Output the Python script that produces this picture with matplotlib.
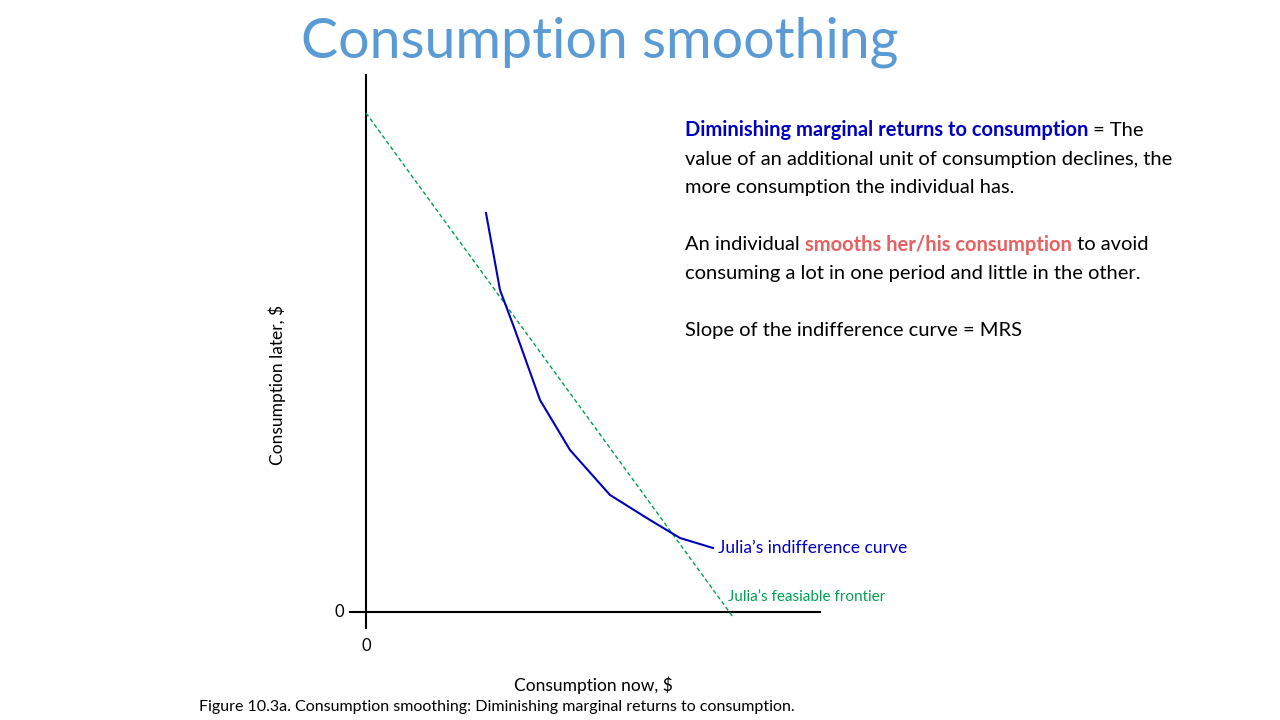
import matplotlib
matplotlib.use("Agg")
import matplotlib.pyplot as plt

FONT = "Lato"
curve_x = [120, 134, 149, 174, 204, 244, 284, 314, 347]
curve_y = [399, 322, 282, 212, 162, 117, 92, 74, 64]
front_x = [0, 367]
front_y = [499, -5]
ticks = [0]

fig = plt.figure(figsize=(12.8, 7.2), dpi=100)
ax = fig.add_axes([366/1280, 108/720, 454/1280, 537/720])
ax.set_xlim(0, 454); ax.set_ylim(0, 537)
for s in ["top", "right", "left", "bottom"]:
    ax.spines[s].set_visible(False)
ax.plot([-16, 454], [0, 0], color="black", lw=1.5, clip_on=False)
ax.plot([0, 0], [-16, 537], color="black", lw=1.5, clip_on=False)
ax.set_xticks([]); ax.set_yticks([])
ax.text(0, -26, "0", ha="center", va="top", fontsize=12, family=FONT)
ax.text(-22, 0, "0", ha="right", va="center", fontsize=12, family=FONT)
ax.plot(front_x, front_y, color="#00A050", ls=(0, (3, 2)), lw=1, clip_on=False)
ax.plot(curve_x, curve_y, color="#0000C0", lw=1.5)
ax.text(352, 64, "Julia’s indifference curve", color="#0000C0", fontsize=12.5, va="center", family=FONT)
ax.text(362, 15, "Julia’s feasiable frontier", color="#00A050", fontsize=11, va="center", family=FONT)
fig.text(277/1280, 1-385/720, "Consumption later, $", rotation=90, ha="center", va="center", fontsize=12.5, family=FONT)
fig.text(593/1280, 1-685/720, "Consumption now, $", ha="center", va="center", fontsize=12.5, family=FONT)
fig.text(497/1280, 1-707/720, "Figure 10.3a. Consumption smoothing: Diminishing marginal returns to consumption.", ha="center", va="center", fontsize=11.5, family=FONT)
fig.text(600/1280, 1-42/720, "Consumption smoothing", ha="center", va="center", fontsize=40, color="#5B9BD5", family=FONT)

fig.canvas.draw()
r = fig.canvas.get_renderer()
def line(parts, x, y):
    for txt, col, w in parts:
        t = fig.text(x/1280, 1-y/720, txt, color=col, fontweight=w, fontsize=14.5, va="center", family=FONT)
        x += t.get_window_extent(r).width
line([("Diminishing marginal returns to consumption", "#0000C0", "bold"), (" = The", "black", "normal")], 685, 130)
line([("value of an additional unit of consumption declines, the", "black", "normal")], 685, 159)
line([("more consumption the individual has.", "black", "normal")], 685, 188)
line([("An individual ", "black", "normal"), ("smooths her/his consumption", "#E86060", "bold"), (" to avoid", "black", "normal")], 685, 245)
line([("consuming a lot in one period and little in the other.", "black", "normal")], 685, 274)
line([("Slope of the indifference curve = MRS", "black", "normal")], 685, 331)
fig.savefig("out.png", dpi=100)
